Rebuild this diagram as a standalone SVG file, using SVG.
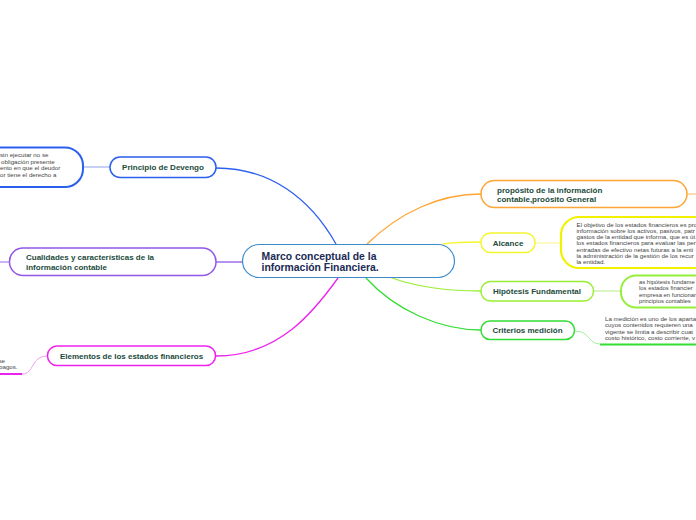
<svg xmlns="http://www.w3.org/2000/svg" width="696" height="520" viewBox="0 0 696 520">
<style>
.lbl{font-family:"Liberation Sans",Arial,sans-serif;font-weight:bold;font-size:8px;fill:#1c4b3c}
.ctr{font-family:"Liberation Sans",Arial,sans-serif;font-weight:bold;font-size:10.4px;fill:#1b2a55}
.sm{font-family:"Liberation Sans",Arial,sans-serif;font-size:6.2px;fill:#444}
.sm2{font-family:"Liberation Sans",Arial,sans-serif;font-size:5.9px;fill:#444}
.n{fill:#fff}
.c{fill:none}
</style>
<rect width="696" height="520" fill="#fff"/>
<g id="connectors" class="c">
  <path d="M216,168 C270,168 310,198 336,244" stroke="#2a5ff0" stroke-width="1.3" fill="none"/>
  <path d="M216,262 L242,262" stroke="#9157e8" stroke-width="1.3"/>
  <path d="M216,356 C280,356 315,310 338,278" stroke="#ee22ee" stroke-width="1.3" fill="none"/>
  <path d="M367,244 C400,212 440,194 481,194" stroke="#ffa533" stroke-width="1.3" fill="none"/>
  <path d="M443,244 C455,242 468,242 481,242" stroke="#f5f530" stroke-width="1.3" fill="none"/>
  <path d="M392,278 C420,288 450,291 481,291" stroke="#99ee33" stroke-width="1.3" fill="none"/>
  <path d="M366,278 C395,310 440,330 481,330" stroke="#33dd33" stroke-width="1.3" fill="none"/>
  <path d="M83,167 L110,167" stroke="#a8b8f0" stroke-width="1.3"/>
  <path d="M0,262 L10,262" stroke="#b08af0" stroke-width="1.3"/>
  <path d="M48,356 C30,356 35,374 22,374" stroke="#f0a0f0" stroke-width="1" fill="none"/>
  <path d="M0,374 L22,374" stroke="#ee22ee" stroke-width="2"/>
  <path d="M687,194 L696,194" stroke="#ffc880" stroke-width="1.3"/>
  <path d="M535,243 L560,243" stroke="#f8f8a0" stroke-width="1.3"/>
  <path d="M594,291 L621,291" stroke="#c8f0a0" stroke-width="1.3"/>
  <path d="M575,331 C590,331 588,344 600,344" stroke="#a0f0a0" stroke-width="1" fill="none"/>
  <path d="M600,344.5 L696,344.5" stroke="#33dd33" stroke-width="2"/>
</g>
<g id="central">
  <rect class="n" x="242.5" y="244.5" width="212" height="33" rx="16.5" stroke="#3c8ccc" stroke-width="1.2"/>
  <text class="ctr" x="261.5" y="260">Marco conceptual de la</text>
  <text class="ctr" x="261.5" y="271">información Financiera.</text>
</g>
<g id="principio">
  <rect class="n" x="110" y="157" width="106" height="20.5" rx="10" stroke="#2a5ff0" stroke-width="1.5"/>
  <text class="lbl" x="163" y="170" text-anchor="middle">Principio de Devengo</text>
</g>
<g id="principio-detalle">
  <rect class="n" x="-60" y="147.5" width="143" height="39.5" rx="18" stroke="#2a5ff0" stroke-width="2"/>
  <text class="sm" x="0" y="157">sin ejecutar no se</text>
  <text class="sm" x="1" y="163.5">obligación presente</text>
  <text class="sm" x="0" y="170">ento en que el deudor</text>
  <text class="sm" x="0" y="176.5">or tiene el derecho a</text>
</g>
<g id="cualidades">
  <rect class="n" x="9.5" y="248" width="206.5" height="27.5" rx="13.5" stroke="#9157e8" stroke-width="1.5"/>
  <text class="lbl" x="26" y="260">Cualidades y características de la</text>
  <text class="lbl" x="26" y="269.5">información contable</text>
</g>
<g id="elementos">
  <rect class="n" x="47.5" y="346" width="168" height="19.5" rx="9.5" stroke="#ee22ee" stroke-width="1.5"/>
  <text class="lbl" x="131.5" y="358.5" text-anchor="middle">Elementos de los estados financieros</text>
</g>
<g id="elementos-detalle">
  <text class="sm" x="-1.5" y="362.5">se</text>
  <text class="sm" x="-1" y="369">pagos.</text>
</g>
<g id="proposito">
  <rect class="n" x="481" y="180.5" width="206" height="27" rx="13.5" stroke="#ffa533" stroke-width="1.5"/>
  <text class="lbl" x="497" y="192.5">propósito de la información</text>
  <text class="lbl" x="497" y="201.5">contable,proósito General</text>
</g>
<g id="alcance">
  <rect class="n" x="481" y="233" width="54" height="19.5" rx="9.5" stroke="#f5f530" stroke-width="1.5"/>
  <text class="lbl" x="508" y="246" text-anchor="middle">Alcance</text>
</g>
<g id="alcance-detalle">
  <rect class="n" x="561" y="217" width="160" height="51" rx="18" stroke="#f2f200" stroke-width="2.2"/>
  <text class="sm" x="576.5" y="226.5">El objetivo de los estados financieros es pro</text>
  <text class="sm" x="576.5" y="232.8">información sobre los activos, pasivos, patr</text>
  <text class="sm" x="576.5" y="239.1">gastos de la entidad que informa, que es út</text>
  <text class="sm" x="576.5" y="245.4">los estados financieros para evaluar las per</text>
  <text class="sm" x="576.5" y="251.7">entradas de efectivo netas futuras a la enti</text>
  <text class="sm" x="576.5" y="258">la administración de la gestión de los recur</text>
  <text class="sm" x="576.5" y="264.3">la entidad.</text>
</g>
<g id="hipotesis">
  <rect class="n" x="481" y="281.5" width="112.5" height="19.5" rx="9.5" stroke="#99ee33" stroke-width="1.5"/>
  <text class="lbl" x="537" y="294.2" text-anchor="middle">Hipótesis Fundamental</text>
</g>
<g id="hipotesis-detalle">
  <rect class="n" x="621" y="275.5" width="100" height="32" rx="15" stroke="#95ee3a" stroke-width="2"/>
  <text class="sm2" x="639" y="283.5">as hipótesis fundame</text>
  <text class="sm2" x="639" y="290">los estados financier</text>
  <text class="sm2" x="639" y="296.5">empresa en funcionar</text>
  <text class="sm2" x="639" y="303">principios contables</text>
</g>
<g id="criterios">
  <rect class="n" x="481" y="321" width="93.5" height="18.5" rx="9" stroke="#33dd33" stroke-width="1.5"/>
  <text class="lbl" x="527.5" y="333" text-anchor="middle">Criterios medición</text>
</g>
<g id="criterios-detalle">
  <text class="sm" x="605" y="320.5">La medición es uno de los aparta</text>
  <text class="sm" x="605" y="327">cuyos contenidos requieren una</text>
  <text class="sm" x="605" y="333.5">vigente se limita a describir cuat</text>
  <text class="sm" x="605" y="340">costo histórico, costo corriente, v</text>
</g>
</svg>
